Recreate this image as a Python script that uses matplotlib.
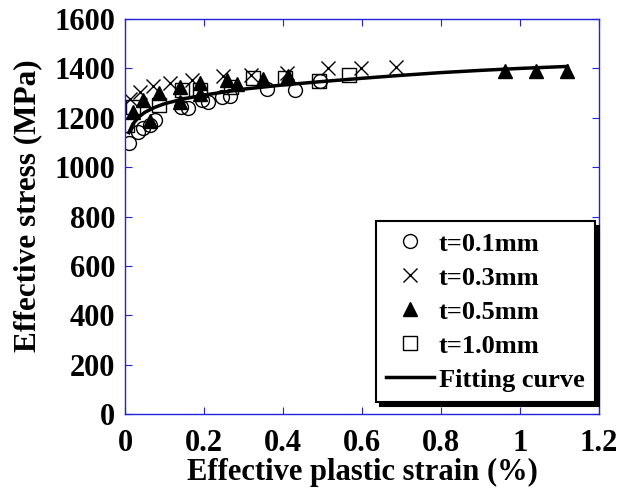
import matplotlib
matplotlib.use('Agg')
import matplotlib.pyplot as plt

plt.rcParams['font.family'] = ['Liberation Serif', 'DejaVu Serif']
plt.rcParams['font.weight'] = 'bold'

# t = 0.1 mm (circles)
x_01 = [0.01, 0.034, 0.046, 0.063, 0.076, 0.143, 0.16, 0.194, 0.211, 0.245, 0.266, 0.359, 0.43, 0.494]
y_01 = [1096, 1143, 1157, 1170, 1191, 1245, 1238, 1272, 1265, 1285, 1290, 1318, 1312, 1350]

# t = 0.3 mm (crosses)
x_03 = [0.013, 0.038, 0.072, 0.114, 0.169, 0.248, 0.32, 0.41, 0.515, 0.597, 0.685]
y_03 = [1275, 1305, 1330, 1339, 1355, 1370, 1375, 1380, 1400, 1400, 1405]

# t = 0.5 mm (triangles)
x_05 = [0.019, 0.046, 0.063, 0.087, 0.139, 0.139, 0.19, 0.19, 0.257, 0.283, 0.35, 0.413, 0.962, 1.04, 1.12]
y_05 = [1225, 1270, 1185, 1300, 1325, 1265, 1340, 1295, 1352, 1335, 1358, 1368, 1388, 1388, 1388]

# t = 1.0 mm (squares)
x_10 = [0.004, 0.02, 0.085, 0.145, 0.19, 0.268, 0.325, 0.405, 0.49, 0.567]
y_10 = [1170, 1242, 1250, 1312, 1312, 1325, 1360, 1360, 1350, 1375]

# fitting curve
x_fit = [0.01, 0.02, 0.035, 0.05, 0.075, 0.1, 0.15, 0.2, 0.3, 0.4, 0.5, 0.6, 0.7, 0.8, 0.9, 1.0, 1.12]
y_fit = [1140, 1175, 1203, 1222, 1242, 1257, 1277, 1292, 1316, 1333, 1347, 1360, 1372, 1383, 1392, 1400, 1408]

fig = plt.figure(figsize=(6.43, 4.88), dpi=100)
ax = fig.add_axes([0.1944, 0.1516, 0.7372, 0.8094])

ax.plot(x_01, y_01, linestyle='none', marker='o', mfc='none', mec='black', ms=10, mew=1.0, label='t=0.1mm')
ax.plot(x_03, y_03, linestyle='none', marker='x', color='black', ms=10, mew=1.0, label='t=0.3mm')
ax.plot(x_05, y_05, linestyle='none', marker='^', color='black', ms=10, label='t=0.5mm')
ax.plot(x_10, y_10, linestyle='none', marker='s', mfc='none', mec='black', ms=10, mew=1.0, label='t=1.0mm')
ax.plot(x_fit, y_fit, color='black', lw=2.5, label='Fitting curve')

ax.set_xlim(0, 1.2)
ax.set_ylim(0, 1600)
ax.set_xticks([0, 0.2, 0.4, 0.6, 0.8, 1.0, 1.2])
ax.set_xticklabels(['0', '0.2', '0.4', '0.6', '0.8', '1', '1.2'])
ax.set_yticks(range(0, 1601, 200))

for s in ax.spines.values():
    s.set_color('#2222dd')
    s.set_linewidth(1.0)
ax.tick_params(direction='in', colors='#2222dd', labelcolor='black', length=5,
               top=True, right=True, labelsize=22)
ax.tick_params(axis='x', pad=11)
ax.tick_params(axis='y', pad=7)
for lab in ax.get_xticklabels() + ax.get_yticklabels():
    lab.set_fontweight('bold')

ax.set_xlabel('Effective plastic strain (%)', fontsize=22, fontweight='bold', labelpad=0)
ax.set_ylabel('Effective stress (MPa)', fontsize=22.5, fontweight='bold')
ax.yaxis.set_label_coords(-0.175, 0.527)

leg = ax.legend(loc='lower right', bbox_to_anchor=(0.992, 0.03), borderaxespad=0,
                fontsize=19, frameon=True, fancybox=False, numpoints=1,
                handlelength=1.8, handletextpad=0.2, labelspacing=0.4,
                borderpad=0.4,
                shadow={'color': 'black', 'alpha': 1, 'ox': 3, 'oy': -3})
leg.get_frame().set_edgecolor('black')
leg.get_frame().set_linewidth(1.5)
for t in leg.get_texts():
    t.set_fontweight('bold')

fig.savefig('out.png', dpi=100)
